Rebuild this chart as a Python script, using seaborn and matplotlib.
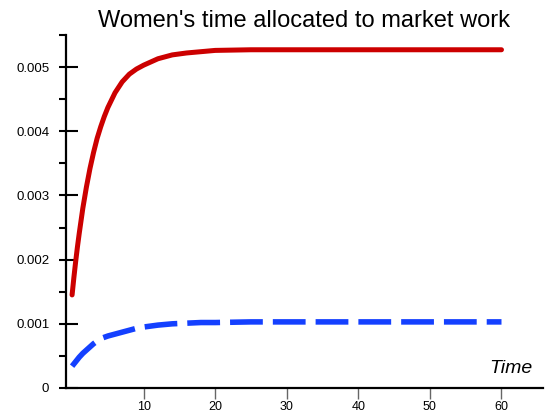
import numpy as np
import pandas as pd
import matplotlib
matplotlib.use("Agg")
import matplotlib.pyplot as plt
from matplotlib.ticker import MultipleLocator, FixedLocator
import seaborn as sns

# ---- data ----
time_red = [0, 0.25, 0.5, 0.75, 1, 1.5, 2, 2.5, 3, 3.5, 4, 4.5, 5, 6, 7, 8, 9, 10, 11, 12,
            14, 16, 18, 20, 25, 30, 40, 50, 60]
red_vals = [0.00145, 0.00172, 0.00197, 0.00220, 0.00241, 0.00280, 0.00313, 0.00342,
            0.00367, 0.00389, 0.00407, 0.00423, 0.00437, 0.00460, 0.00477, 0.00489,
            0.00497, 0.00503, 0.00508, 0.00513, 0.00519, 0.00522, 0.00524, 0.00526,
            0.00527, 0.00527, 0.00527, 0.00527, 0.00527]
time_blue = [0, 0.5, 1, 1.5, 2, 2.5, 3, 3.5, 4, 5, 6, 7, 8, 9, 10, 12, 14, 16, 18, 20,
             25, 30, 40, 50, 60]
blue_vals = [0.00034, 0.00041, 0.00048, 0.00054, 0.00059, 0.00064, 0.00069, 0.00073,
             0.00077, 0.00081, 0.00084, 0.00087, 0.00090, 0.00093, 0.00095, 0.00098,
             0.00100, 0.00101, 0.00102, 0.00102, 0.00103, 0.00103, 0.00103, 0.00103,
             0.00103]
y_ticks = [0, 0.001, 0.002, 0.003, 0.004, 0.005]
y_tick_labels = ["0", "0.001", "0.002", "0.003", "0.004", "0.005"]
x_ticks = [10, 20, 30, 40, 50, 60]
title = "Women's time allocated to market work"
xlabel = "Time"

sns.set_style("white")
plt.rcParams["font.family"] = ["Liberation Sans", "DejaVu Sans"]
plt.rcParams["text.color"] = "black"
plt.rcParams["axes.labelcolor"] = "black"

fig = plt.figure(figsize=(5.47, 4.17), dpi=100)
ax = fig.add_axes([66 / 547, 1 - 388 / 417, (543 - 66) / 547, (388 - 35) / 417])

df_red = pd.DataFrame({"t": time_red, "v": red_vals})
df_blue = pd.DataFrame({"t": time_blue, "v": blue_vals})

sns.lineplot(data=df_red, x="t", y="v", ax=ax, color="#CC0000", linewidth=3.6,
             solid_capstyle="round", solid_joinstyle="round")
sns.lineplot(data=df_blue, x="t", y="v", ax=ax, color="#1440FF", linewidth=4.0,
             linestyle=(0, (5.9, 1.8)), dash_capstyle="butt", dash_joinstyle="round")

ax.set_xlim(-0.85, 65.8)
ax.set_ylim(0, 0.0055)

for s in ["top", "right"]:
    ax.spines[s].set_visible(False)
for s in ["left", "bottom"]:
    ax.spines[s].set_linewidth(1.6)
    ax.spines[s].set_color("black")

ax.yaxis.set_major_locator(FixedLocator(y_ticks))
ax.set_yticklabels(y_tick_labels)
ax.yaxis.set_minor_locator(MultipleLocator(0.0005))
ax.yaxis.remove_overlapping_locs = False
ax.tick_params(axis="y", which="major", direction="in", length=8.6, width=1.5,
               color="black", labelcolor="black", labelsize=9.5, pad=12, left=True)
ax.tick_params(axis="y", which="minor", direction="out", length=5, width=1.5,
               color="black", left=True)

ax.set_xticks(x_ticks)
ax.tick_params(axis="x", which="major", direction="out", length=8, width=1.0,
               color="#666666", labelcolor="black", labelsize=9, pad=1.5, bottom=True)

ax.set_ylabel("")
ax.set_xlabel(xlabel, fontsize=14, style="italic", ha="right", va="baseline",
              color="black")
ax.xaxis.set_label_coords(0.979, 0.0425)

ax.set_title(title, fontsize=17, pad=5.8, color="black")

fig.savefig("out.png", dpi=100)
